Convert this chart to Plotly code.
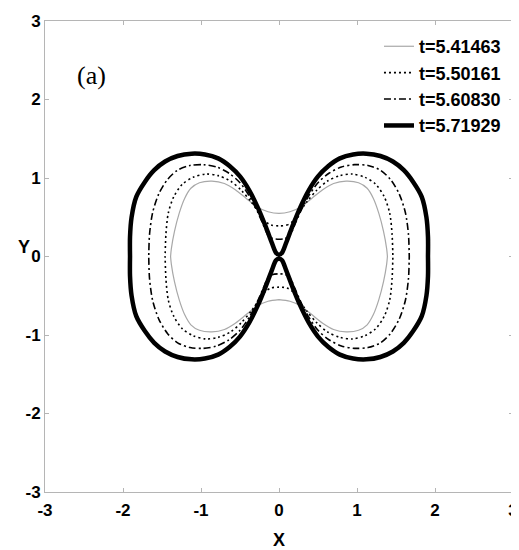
import plotly.graph_objects as go

# first-quadrant outline of each interface (neck at x=0 -> outer edge at y=0);
# the curves are symmetric in x and y, so the other quadrants are mirrored
LABELS = ["t=5.41463", "t=5.50161", "t=5.60830", "t=5.71929"]

GRAY_X = [0.00, 0.14, 0.28, 0.42, 0.56, 0.70, 0.86, 1.02, 1.13, 1.21, 1.28, 1.34, 1.38, 1.39]
GRAY_Y = [0.55, 0.57, 0.63, 0.74, 0.85, 0.93, 0.96, 0.94, 0.87, 0.74, 0.55, 0.32, 0.10, 0.00]

DOT_X = [0.00, 0.10, 0.18, 0.26, 0.36, 0.48, 0.62, 0.78, 0.94, 1.10, 1.24, 1.35, 1.42, 1.45, 1.46]
DOT_Y = [0.39, 0.40, 0.45, 0.56, 0.70, 0.84, 0.96, 1.03, 1.05, 1.01, 0.92, 0.76, 0.55, 0.28, 0.00]

DASHDOT_X = [0.00, 0.08, 0.14, 0.20, 0.28, 0.38, 0.50, 0.64, 0.80, 0.97, 1.14, 1.30, 1.43, 1.54, 1.62, 1.66, 1.67]
DASHDOT_Y = [0.22, 0.23, 0.27, 0.40, 0.58, 0.77, 0.94, 1.06, 1.14, 1.17, 1.16, 1.10, 0.98, 0.80, 0.56, 0.28, 0.00]

THICK_X = [0.00, 0.04, 0.09, 0.17, 0.27, 0.38, 0.50, 0.63, 0.78, 0.95, 1.12, 1.30, 1.46, 1.60, 1.72, 1.83, 1.89, 1.91, 1.91]
THICK_Y = [0.02, 0.05, 0.17, 0.38, 0.62, 0.84, 1.02, 1.15, 1.25, 1.30, 1.31, 1.28, 1.21, 1.10, 0.95, 0.76, 0.50, 0.25, 0.00]

TICKS = [-3, -2, -1, 0, 1, 2, 3]
TICK_TEXT = ["-3", "-2", "-1", "0", "1", "2", "3"]


def closed_curve(qx, qy):
    """Mirror a first-quadrant outline into a closed curve."""
    xs = list(qx) + list(reversed(qx)) + [-v for v in qx] + [-v for v in reversed(qx)]
    ys = list(qy) + [-v for v in reversed(qy)] + [-v for v in qy] + list(reversed(qy))
    return xs, ys


styles = [
    dict(color="#a8a8a8", width=1.2, dash="solid"),
    dict(color="black", width=1.6, dash="2px,3px"),
    dict(color="black", width=1.6, dash="7px,3px,2px,3px"),
    dict(color="black", width=4.5, dash="solid"),
]
curves = [(GRAY_X, GRAY_Y), (DOT_X, DOT_Y), (DASHDOT_X, DASHDOT_Y), (THICK_X, THICK_Y)]

fig = go.Figure()
for label, (qx, qy), st in zip(LABELS, curves, styles):
    xs, ys = closed_curve(qx, qy)
    fig.add_trace(go.Scatter(
        x=xs, y=ys, mode="lines", name=label,
        line=dict(color=st["color"], width=st["width"], dash=st["dash"], shape="spline", smoothing=0.8),
    ))

axis = dict(
    range=[-3, 3], tickvals=TICKS, ticktext=TICK_TEXT, ticks="inside", ticklen=4, tickcolor="#b5b5b5",
    showline=True, linecolor="#b5b5b5", linewidth=1, mirror="ticks",
    showgrid=False, zeroline=False, automargin=False,
    tickfont=dict(family="Liberation Sans", size=17, color="black", weight="bold"),
)
fig.update_xaxes(**axis, ticklabelstandoff=3,
                 title=dict(text="<b>X</b>", font=dict(size=18, color="black"), standoff=14))
fig.update_yaxes(**axis)

fig.add_annotation(xref="paper", yref="paper", x=-0.062, y=0.52, text="<b>Y</b>", showarrow=False,
                   font=dict(family="Liberation Sans", size=18, color="black"))
fig.add_annotation(x=-2.4, y=2.31, text="(a)", showarrow=False,
                   font=dict(family="Liberation Serif", size=26, color="black"))

# the page body has an 8px margin, so the figure is trimmed by that much
fig.update_layout(
    width=511, height=542,
    margin=dict(l=37, r=6, t=13, b=58),
    paper_bgcolor="white", plot_bgcolor="white",
    font=dict(family="Liberation Sans", color="black"),
    legend=dict(x=0.985, xanchor="right", y=0.985, yanchor="top", bgcolor="rgba(0,0,0,0)",
                font=dict(size=18, color="black", weight="bold"), tracegroupgap=0),
)

fig.write_html("out.html")
